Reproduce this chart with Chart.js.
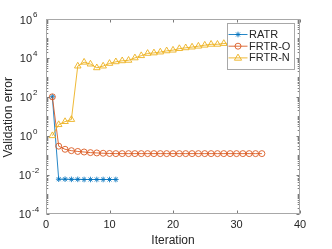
<!DOCTYPE html>
<html><head><meta charset="utf-8">
<style>html,body{margin:0;padding:0;background:#fff;overflow:hidden}</style>
<script src="https://cdn.jsdelivr.net/npm/chart.js@4.4.0/dist/chart.umd.min.js"></script>
</head><body>
<canvas id="c" width="332" height="249" style="width:332px;height:249px;display:block"></canvas>
<script>
// ---- data ----
const ratrIter = [1,2,3,4,5,6,7,8,9,10,11];
const ratrErr  = [100,0.0058,0.0058,0.0057,0.0057,0.0056,0.0056,0.0056,0.0056,0.0056,0.0056];
const frtrOIter = [1,2,3,4,5,6,7,8,9,10,11,12,13,14,15,16,17,18,19,20,21,22,23,24,25,26,27,28,29,30,31,32,33,34];
const frtrOErr  = [100,0.29,0.2,0.17,0.155,0.145,0.135,0.13,0.125,0.122,0.12,0.12,0.12,0.12,0.12,0.12,0.12,0.12,0.12,0.12,0.12,0.12,0.12,0.12,0.12,0.12,0.12,0.12,0.12,0.12,0.12,0.12,0.12,0.12];
const frtrNIter = [1,2,3,4,5,6,7,8,9,10,11,12,13,14,15,16,17,18,19,20,21,22,23,24,25,26,27,28,29,30,31,32,33,34];
const frtrNErr  = [1.0,3.7,5.3,6.8,3800,6000,4800,3100,3800,5200,6300,7100,7500,10000,13000,17000,18000,20000,23000,25000,30000,33000,36000,40000,45000,50000,50000,55000,58000,60000,62000,64000,65000,66000];
const seriesNames = ['RATR','FRTR-O','FRTR-N'];
const xTicks = [0,10,20,30,40];
const yTickExps = [-4,-2,0,2,4,6];
const xTitle = 'Iteration';
const yTitle = 'Validation error';

const colors = ['rgba(0,114,189,0.85)','rgba(217,83,25,0.85)','rgba(237,177,32,0.9)'];
const styles = ['star','circle','triangle'];
const FONT = '"Liberation Sans", Arial, Helvetica, sans-serif';
const toPts = (xs, ys) => xs.map((v,i)=>({x:v, y:ys[i]}));

function drawMarker(ctx, style, x, y, r, color){
  ctx.save();
  ctx.strokeStyle = color; ctx.lineWidth = 1;
  ctx.beginPath();
  if (style === 'circle') { ctx.arc(x, y, r, 0, Math.PI*2); }
  else if (style === 'triangle') {
    ctx.moveTo(x, y - r); ctx.lineTo(x + r*0.95, y + r*0.6); ctx.lineTo(x - r*0.95, y + r*0.6); ctx.closePath();
  } else {
    for (let k=0;k<4;k++){ const a=k*Math.PI/4; ctx.moveTo(x-Math.cos(a)*r, y-Math.sin(a)*r); ctx.lineTo(x+Math.cos(a)*r, y+Math.sin(a)*r); }
  }
  ctx.stroke();
  ctx.restore();
}

const matlabAxes = {
  id: 'matlabAxes',
  afterDatasetsDraw(chart){
    const {ctx, chartArea:a, scales:{x, y}} = chart;
    ctx.save();
    const L = Math.round(a.left)+0.5, R = Math.round(a.right)-0.5, T = Math.round(a.top)+0.5, B = Math.round(a.bottom)-0.5;
    ctx.strokeStyle = '#7a7a7a'; ctx.lineWidth = 1;
    const seg=(x1,y1,x2,y2)=>{ctx.beginPath();ctx.moveTo(x1,y1);ctx.lineTo(x2,y2);ctx.stroke();};
    xTicks.forEach(v=>{ const px = Math.round(x.getPixelForValue(v))+0.5; seg(px,B,px,B-3); seg(px,T,px,T+3); });
    for (let e=-4; e<6; e++){
      for (let k=1;k<10;k++){
        const v = k*Math.pow(10,e);
        const py = Math.round(y.getPixelForValue(v))+0.5;
        const major = (k===1 && yTickExps.includes(e));
        const len = major ? 3 : 1.8;
        seg(L,py,L+len,py); seg(R,py,R-len,py);
      }
    }
    ctx.strokeStyle = '#a8a8a8';
    ctx.strokeRect(L, T, R-L, B-T);
    ctx.fillStyle = '#262626';
    ctx.font = '11px ' + FONT;
    ctx.textAlign = 'center'; ctx.textBaseline = 'middle';
    xTicks.forEach(v=>{ ctx.fillText(String(v), x.getPixelForValue(v), a.bottom + 11.5); });
    yTickExps.forEach(e=>{
      const py = y.getPixelForValue(Math.pow(10,e)) + 1.5;
      const neg = e < 0;
      const baseRight = a.left - (neg ? 15 : 14);
      ctx.font = '11px ' + FONT; ctx.textAlign = 'right'; ctx.textBaseline = 'middle';
      ctx.fillText('10', baseRight, py);
      ctx.font = '8px ' + FONT; ctx.textAlign = 'left';
      ctx.fillText(String(e), baseRight + 1, py - 5.5);
    });
    ctx.font = '12px ' + FONT; ctx.textAlign = 'center'; ctx.textBaseline = 'middle';
    ctx.fillText(xTitle, (a.left+a.right)/2, a.bottom + 27);
    ctx.save();
    ctx.translate(9, (a.top+a.bottom)/2 + 1);
    ctx.rotate(-Math.PI/2);
    ctx.fillText(yTitle, 0, 0);
    ctx.restore();
    const bx = a.right - 73, by = a.top + 4, bw = 67, bh = 46;
    ctx.fillStyle = '#ffffff';
    ctx.fillRect(bx, by, bw, bh);
    ctx.strokeStyle = '#a8a8a8';
    ctx.strokeRect(bx+0.5, by+0.5, bw, bh);
    chart.data.datasets.forEach((ds,i)=>{
      const ly = by + 11.5 + i*11.7;
      ctx.strokeStyle = ds.borderColor; ctx.lineWidth = 1;
      seg(bx+1.5, ly, bx+20.5, ly);
      drawMarker(ctx, ds.pointStyle, bx+11, ly, ds.pointRadius, ds.borderColor);
      ctx.fillStyle = '#262626';
      ctx.font = '11px ' + FONT; ctx.textAlign = 'left'; ctx.textBaseline = 'middle';
      ctx.fillText(ds.label, bx + 22, ly + 0.5);
    });
    ctx.restore();
  }
};

new Chart(document.getElementById('c'), {
  type: 'line',
  data: {
    datasets: [
      {label: seriesNames[0], data: toPts(ratrIter, ratrErr), borderColor: colors[0], backgroundColor: 'rgba(0,0,0,0)', pointStyle: styles[0], pointRadius: 2.8, pointBorderWidth: 1, borderWidth: 1, order: 3},
      {label: seriesNames[1], data: toPts(frtrOIter, frtrOErr), borderColor: colors[1], backgroundColor: 'rgba(0,0,0,0)', pointStyle: styles[1], pointRadius: 3, pointBorderWidth: 1, borderWidth: 1, order: 2},
      {label: seriesNames[2], data: toPts(frtrNIter, frtrNErr), borderColor: colors[2], backgroundColor: 'rgba(0,0,0,0)', pointStyle: styles[2], pointRadius: 3.8, pointBorderWidth: 1, borderWidth: 1, order: 1}
    ]
  },
  options: {
    responsive: false,
    devicePixelRatio: 1,
    animation: false,
    layout: {padding: {left: 46, right: 32, top: 19, bottom: 35.5}},
    plugins: {legend: {display: false}, tooltip: {enabled: false}},
    elements: {line: {tension: 0}},
    scales: {
      x: {type: 'linear', min: 0, max: 40, display: false},
      y: {type: 'logarithmic', min: 1e-4, max: 1e6, display: false}
    }
  },
  plugins: [matlabAxes]
});
</script>
</body></html>
